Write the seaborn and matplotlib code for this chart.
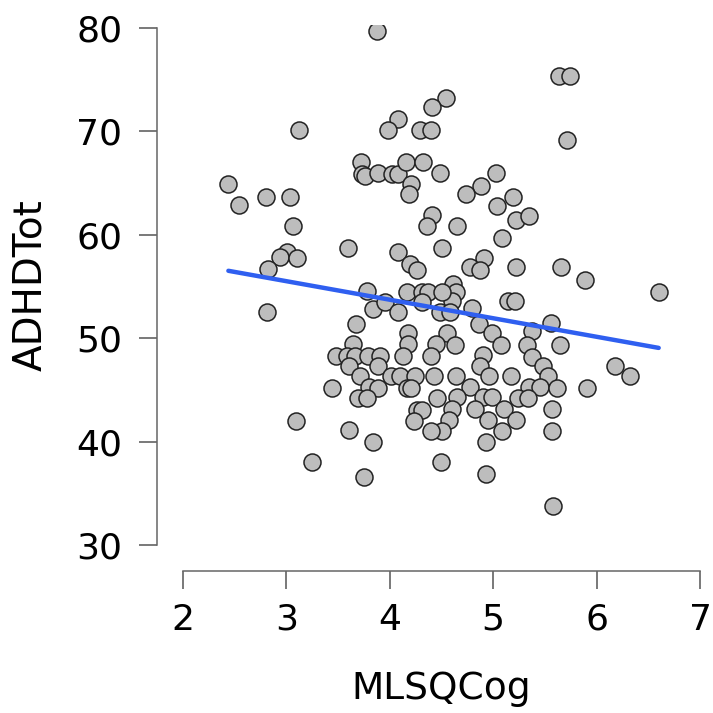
import matplotlib
matplotlib.use("Agg")
import matplotlib.pyplot as plt
import seaborn as sns
import pandas as pd

# MLSQ cognitive score per participant
mlsq_cog = [
    3.88, 4.54, 4.41, 4.08, 3.98, 4.29, 4.40, 3.12, 3.72, 3.73, 3.76, 3.89, 4.02, 4.08,
    4.16, 4.32, 4.49, 4.21, 4.19, 2.44, 2.54, 2.80, 3.04, 3.06, 4.41, 4.36, 4.65, 3.60,
    4.51, 4.08, 4.20, 4.26, 3.01, 2.94, 3.10, 2.82, 5.64, 5.74, 5.71, 5.03, 4.88, 4.74,
    5.04, 5.19, 5.22, 5.35, 5.09, 4.91, 4.78, 4.87, 5.22, 5.66, 5.89, 6.60, 4.61, 4.64,
    4.60, 5.14, 5.21, 4.80, 4.86, 5.56, 5.38, 4.99, 4.55, 4.63, 5.08, 5.33, 5.65, 4.90,
    5.38, 4.87, 5.48, 6.18, 6.32, 4.64, 4.96, 5.17, 5.53, 4.78, 5.35, 5.45, 5.62, 5.91,
    4.90, 4.99, 4.65, 5.24, 5.34, 4.60, 4.82, 5.10, 5.57, 4.57, 4.95, 5.22, 4.51, 5.09,
    5.57, 4.93, 4.50, 4.93, 5.58, 2.81, 3.78, 3.84, 3.95, 4.08, 4.17, 4.31, 4.37, 4.31,
    4.51, 4.49, 4.58, 3.67, 4.18, 4.18, 3.64, 4.45, 3.48, 3.59, 3.66, 3.79, 3.91, 4.13,
    4.40, 3.61, 3.89, 3.71, 4.01, 4.10, 4.24, 4.43, 3.44, 3.80, 3.89, 4.17, 4.21, 3.69,
    3.78, 4.46, 4.26, 4.31, 4.23, 4.40, 3.09, 3.61, 3.84, 3.25, 3.75,
]

# ADHD total score per participant
adhd_tot = [
    79.7, 73.2, 72.3, 71.2, 70.1, 70.1, 70.1, 70.1, 67.0, 65.9, 65.7, 66.0, 65.9, 65.9,
    67.0, 67.0, 66.0, 64.9, 63.9, 64.9, 62.9, 63.6, 63.6, 60.8, 61.9, 60.8, 60.8, 58.7,
    58.7, 58.3, 57.2, 56.6, 58.3, 57.8, 57.7, 56.7, 75.3, 75.3, 69.1, 66.0, 64.7, 63.9,
    62.8, 63.6, 61.4, 61.8, 59.7, 57.7, 56.9, 56.6, 56.9, 56.9, 55.6, 54.5, 55.2, 54.5,
    53.6, 53.6, 53.6, 52.9, 51.4, 51.5, 50.7, 50.5, 50.5, 49.3, 49.3, 49.3, 49.3, 48.4,
    48.2, 47.3, 47.3, 47.3, 46.3, 46.3, 46.3, 46.3, 46.3, 45.3, 45.3, 45.3, 45.2, 45.2,
    44.3, 44.3, 44.3, 44.2, 44.2, 43.2, 43.2, 43.2, 43.2, 42.1, 42.1, 42.1, 41.0, 41.0,
    41.0, 40.0, 38.0, 36.9, 33.8, 52.5, 54.6, 52.8, 53.5, 52.5, 54.5, 54.5, 54.5, 53.5,
    54.5, 52.5, 52.5, 51.4, 50.5, 49.4, 49.4, 49.4, 48.3, 48.3, 48.3, 48.3, 48.3, 48.3,
    48.3, 47.3, 47.3, 46.3, 46.3, 46.3, 46.3, 46.3, 45.2, 45.3, 45.2, 45.2, 45.2, 44.2,
    44.2, 44.2, 43.1, 43.1, 42.0, 41.0, 42.0, 41.1, 40.0, 38.0, 36.6,
]

x_ticks = [2, 3, 4, 5, 6, 7]
y_ticks = [30, 40, 50, 60, 70, 80]

df = pd.DataFrame({"MLSQCog": mlsq_cog, "ADHDTot": adhd_tot})

sns.set_style("white")
plt.rcParams["font.family"] = ["DejaVu Sans"]

fig = plt.figure(figsize=(7.13, 7.13), dpi=100)
ax = fig.add_axes([0.2202, 0.1992, 0.766, 0.7663])

sns.regplot(
    data=df, x="MLSQCog", y="ADHDTot", ax=ax, ci=None,
    scatter_kws=dict(s=150, facecolor="#bdbdbd", edgecolor="#222222",
                     linewidths=1.1, alpha=1, zorder=2),
    line_kws=dict(color="#2f5ff0", lw=3.2, zorder=3),
)

ax.set_xlim(1.75, 7.03)
ax.set_ylim(27.5, 80.3)
ax.set_xticks(x_ticks)
ax.set_yticks(y_ticks)

for side in ("top", "right"):
    ax.spines[side].set_visible(False)
ax.spines["left"].set_bounds(30, 80)
ax.spines["bottom"].set_bounds(2, 7)
for side in ("left", "bottom"):
    ax.spines[side].set_color("#666666")
    ax.spines[side].set_linewidth(1.1)

ax.tick_params(axis="both", direction="out", length=13, width=1.1,
               color="#555555", labelsize=26, labelcolor="black")
ax.tick_params(axis="y", pad=12, left=True)
ax.tick_params(axis="x", pad=10, bottom=True)

ax.set_xlabel("MLSQCog", fontsize=27, color="black")
ax.set_ylabel("ADHDTot", fontsize=28, color="black")
ax.xaxis.set_label_coords(0.52, -0.183)
ax.yaxis.set_label_coords(-0.197, 0.523)

fig.savefig("out.png", dpi=100)
